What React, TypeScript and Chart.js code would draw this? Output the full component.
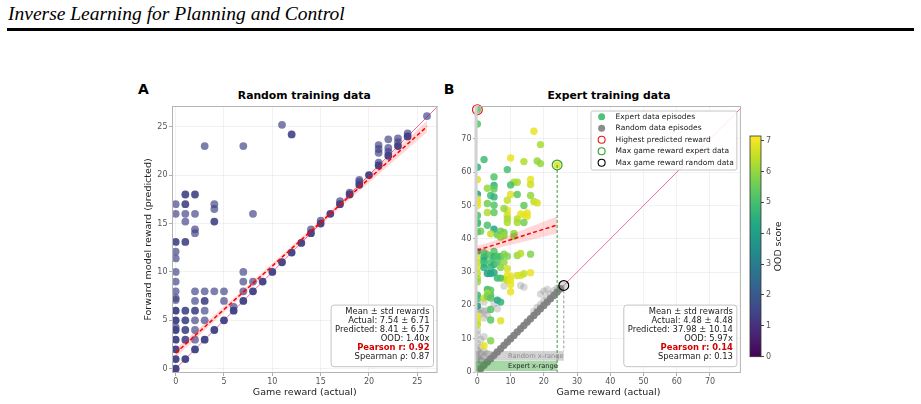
import React, { useEffect, useRef } from "react";
import { Chart, registerables } from "chart.js";

Chart.register(...registerables);

const SANS = "'DejaVu Sans', 'Liberation Sans', sans-serif";

// ---------- Panel A: forward model trained on random data ----------
const randomActual = [
  0, 0, 0, 0, 0, 0, 0, 0, 0, 0, 0, 0, 0, 0, 0, 0, 0, 0,
  1, 1, 1, 1, 1, 1, 1, 1, 1, 1,
  2, 2, 2, 2, 2, 2, 2, 2, 2, 2, 2,
  3, 3, 3, 3, 3, 3,
  4, 4, 4, 4, 4,
  5, 5, 5,
  6, 6,
  7, 7, 7, 7, 7,
  8, 8, 8,
  9, 10, 11, 11, 12, 12, 13, 14, 14, 15, 15, 16, 17, 17, 18, 18,
  19, 19, 19, 20, 21, 21, 21, 21, 21, 22, 22, 22, 22, 23, 23, 23, 24, 24, 26,
];
const randomPredicted = [
  0, 1, 2, 3, 4, 4.3, 5, 6, 7.1, 7.3, 8, 9, 10, 11.4, 12.1, 13.1, 16, 17,
  1, 3, 4, 5, 6, 13.1, 15.2, 16, 17, 18,
  2, 3, 4, 5, 6, 7, 8, 14, 14.4, 16, 18,
  3, 5, 6, 7, 8, 23,
  4, 8, 15.2, 16.5, 17,
  5, 7, 8,
  6, 6.4,
  7, 8, 9, 10, 23,
  8, 9, 16,
  9, 10, 11, 25.2, 12, 24.2, 13, 14, 14.4, 15, 15.3, 16, 17, 17.3, 18, 18.2,
  19, 19.3, 19.5, 20, 21, 21.3, 22.3, 22.7, 23.1, 22, 22.4, 22.8, 23.7, 23, 23.4, 23.8, 24, 24.3, 26.1,
];
// number of episodes sharing each (actual, predicted) pair
const randomCount = [
  4, 3, 3, 3, 3, 1, 3, 3, 1, 1, 1, 1, 1, 1, 1, 2, 1, 1,
  3, 2, 2, 2, 2, 2, 1, 1, 2, 2,
  3, 1, 1, 1, 2, 1, 1, 1, 1, 1, 2,
  3, 1, 1, 2, 1, 1,
  3, 1, 2, 1, 1,
  3, 1, 1,
  3, 1,
  3, 1, 1, 1, 1,
  3, 1, 1,
  3, 3, 3, 1, 3, 2, 3, 3, 1, 3, 1, 3, 3, 1, 3, 1,
  3, 1, 1, 3, 3, 1, 1, 1, 1, 3, 1, 1, 1, 3, 1, 1, 3, 1, 1,
];
const randomOod = 1.4;
const randomFitX = [0, 26];
const randomFitY = [1.62, 25.02];
const randomBandX = [0, 6, 12, 18, 26];
const randomBandLow = [1.17, 6.74, 12.17, 17.47, 24.42];
const randomBandHigh = [2.07, 7.3, 12.67, 18.17, 25.62];
const randomStats = [
  "Mean ± std rewards",
  "Actual: 7.54 ± 6.71",
  "Predicted: 8.41 ± 6.57",
  "OOD: 1.40x",
  "Pearson r: 0.92",
  "Spearman ρ: 0.87",
];

// ---------- Panel B: forward model trained on expert data ----------
const expertActual = [
  0, 0, 17, 19, 2, 0, 10, 14, 18, 19,
  24, 9, 0, 5, 5, 5, 16, 16, 11, 12,
  10, 3, 0, 0, 0, 0, 3, 4, 5, 5,
  10, 12, 16, 17, 18, 9, 3, 5, 14, 13,
  14, 15, 15, 9, 9, 8, 9, 9, 12, 12,
  14, 0, 0, 0, 3, 1, 5, 7, 8, 11,
  0, 4, 6, 7, 8, 11, 0, 2, 3, 4,
  5, 0, 0, 0, 2, 2, 2, 2, 5, 6,
  7, 8, 9, 12, 13, 16, 4, 4, 5, 6,
  7, 8, 9, 9, 10, 8, 12, 13, 14, 16,
  0, 0, 0, 3, 4, 5, 6, 7, 9, 10,
  10, 3, 4, 4, 10, 0, 0, 2, 3, 3,
  4, 6, 7, 0, 4, 0, 0, 0, 0, 4,
  7, 4, 2,
];
const expertPredicted = [
  78.8, 74.5, 72.3, 68.3, 63.8, 61.5, 64.3, 63.2, 63.4, 62.6,
  62.2, 60.8, 57.8, 58.6, 56.0, 55.0, 57.8, 56.3, 57.0, 57.0,
  56.2, 55.2, 53.4, 52.0, 51.0, 50.0, 50.6, 53.0, 52.6, 50.1,
  53.3, 53.3, 53.0, 51.2, 50.8, 51.6, 47.9, 47.9, 50.0, 47.5,
  47.2, 47.8, 46.8, 48.6, 47.1, 49.1, 46.0, 44.9, 46.0, 44.9,
  44.9, 47.0, 45.0, 44.6, 44.1, 42.3, 42.9, 42.3, 41.9, 41.6,
  42.1, 41.5, 41.2, 40.5, 41.0, 40.8, 36.1, 35.8, 35.2, 34.9,
  36.2, 34.4, 32.8, 31.1, 34.6, 33.6, 32.6, 31.4, 34.6, 34.8,
  34.6, 35.4, 34.8, 35.0, 35.6, 35.4, 32.9, 31.4, 32.3, 33.0,
  31.4, 33.0, 31.0, 29.0, 28.8, 28.0, 29.0, 29.0, 29.5, 29.8,
  29.6, 28.1, 27.1, 29.6, 29.6, 29.8, 28.2, 28.2, 27.5, 27.7,
  26.3, 24.8, 24.6, 23.1, 24.1, 23.1, 22.1, 22.2, 23.7, 22.7,
  22.2, 21.6, 21.0, 19.8, 18.8, 16.8, 16.1, 15.1, 14.1, 15.6,
  15.4, 9.4, 7.9,
];
const expertOod = [
  5.3, 5.2, 6.9, 6.2, 4.9, 4.6, 6.9, 6.3, 6.0, 6.0,
  6.8, 5.0, 6.8, 5.2, 4.5, 5.5, 6.9, 6.6, 6.2, 6.2,
  5.0, 6.0, 3.9, 6.9, 6.8, 6.9, 5.6, 5.0, 4.7, 5.2,
  6.8, 5.3, 6.0, 6.4, 6.7, 6.5, 6.3, 5.4, 5.4, 6.9,
  6.9, 6.9, 6.9, 6.9, 6.6, 6.0, 6.2, 6.3, 6.4, 6.2,
  5.6, 5.0, 5.2, 4.9, 5.1, 5.6, 4.2, 5.6, 5.6, 6.0,
  5.3, 6.5, 5.5, 6.0, 6.0, 5.8, 4.0, 5.4, 5.0, 5.6,
  5.2, 6.9, 6.5, 6.8, 4.8, 4.4, 5.0, 4.5, 4.6, 5.1,
  5.0, 5.8, 5.8, 6.0, 6.4, 5.8, 5.0, 4.8, 4.6, 5.2,
  5.8, 6.0, 6.7, 6.9, 6.9, 6.8, 6.6, 6.8, 6.5, 6.9,
  6.5, 6.2, 6.0, 4.0, 4.2, 4.3, 4.8, 5.1, 6.5, 6.9,
  6.9, 4.8, 5.3, 5.2, 6.9, 4.8, 5.0, 6.5, 6.2, 5.7,
  5.3, 4.1, 4.6, 3.8, 5.2, 6.9, 6.9, 6.8, 6.5, 5.3,
  6.8, 5.8, 6.9,
];
const randomEpActual = [
  0, 1, 2, 3, 4, 5, 6, 7, 8, 9, 10, 11, 12, 13, 14, 15, 16, 17, 18, 19, 20, 21, 22, 23, 24, 25, 26,
  17, 18, 19, 20, 21, 22, 23, 24, 19, 20, 21, 8, 13, 14,
  0, 0, 0, 0, 1, 1, 1, 2, 2, 3, 1, 0, 2, 0, 1, 2, 0, 3, 0, 2, 2, 1, 3, 5, 6,
];
const randomEpPredicted = [
  0, 1, 2, 3, 4, 5, 6, 7, 8, 9, 10, 11, 12, 13, 14, 15, 16, 17, 18, 19, 20, 21, 22, 23, 24, 25, 26,
  18.2, 19.4, 20.3, 21.4, 22.4, 23.4, 24.4, 25.2, 23.4, 24.3, 24.8, 25.8, 26.0, 25.5,
  2.5, 4.5, 6.5, 8.5, 3.5, 5.5, 7.5, 4.5, 6.2, 5.6, 9.8, 11.2, 10.6, 12.5, 17.6, 18.3, 18.8, 17.1, 20.5, 16.2, 21.1, 18.6, 18.6, 20.5, 19.0,
];
const randomEpCount = [
  8, 8, 8, 8, 8, 8, 8, 8, 8, 8, 8, 8, 8, 8, 8, 8, 8, 8, 8, 8, 8, 8, 8, 8, 8, 8, 1,
  1, 1, 1, 1, 1, 1, 1, 1, 1, 1, 1, 1, 1, 1,
  2, 2, 2, 1, 2, 1, 1, 1, 1, 1, 1, 1, 1, 1, 1, 1, 1, 1, 1, 1, 1, 1, 1, 1, 1,
];
const expertFitX = [0, 24];
const expertFitY = [36.56, 44.17];
const expertBandX = [0, 4, 8, 12, 16, 20, 24];
const expertBandLow = [35.16, 36.63, 37.7, 38.66, 39.63, 40.6, 41.57];
const expertBandHigh = [37.96, 39.03, 40.5, 42.06, 43.63, 45.2, 46.77];
const expertStats = [
  "Mean ± std rewards",
  "Actual: 4.48 ± 4.48",
  "Predicted: 37.98 ± 10.14",
  "OOD: 5.97x",
  "Pearson r: 0.14",
  "Spearman ρ: 0.13",
];
const legendLabels = [
  "Expert data episodes",
  "Random data episodes",
  "Highest predicted reward",
  "Max game reward expert data",
  "Max game reward random data",
];
// predicted-reward bands carrying the x-range labels
const randomRangeBand = [3.4, 6.3];
const expertRangeBand = [0.3, 3.3];
const rangeLabelX = 9.2;

// ---------- axis limits ----------
const aXRange = [-0.38, 27.09];
const aYRange = [-0.44, 27.14];
const bXRange = [-0.42, 79.3];
const bYRange = [-0.3, 79.9];
const oodRange = [0, 7.15];

const VIRIDIS = [
  "#440154", "#482475", "#414487", "#355f8d", "#2a788e", "#21918c",
  "#22a884", "#44bf70", "#7ad151", "#bddf26", "#fde725",
];
function hexRgb(h: string) {
  return [1, 3, 5].map((i) => parseInt(h.slice(i, i + 2), 16));
}
function viridis(t: number, alpha = 1) {
  const c = Math.min(1, Math.max(0, t)) * 10;
  const i = Math.min(9, Math.floor(c));
  const f = c - i;
  const a = hexRgb(VIRIDIS[i]);
  const b = hexRgb(VIRIDIS[i + 1]);
  const m = a.map((v, k) => Math.round(v + (b[k] - v) * f));
  return `rgba(${m[0]},${m[1]},${m[2]},${alpha})`;
}
const oodColor = (v: number, alpha = 1) => viridis((v - oodRange[0]) / (oodRange[1] - oodRange[0]), alpha);
const stackAlpha = (base: number, n: number) => 1 - Math.pow(1 - base, n);
const pts = (xs: number[], ys: number[]) => xs.map((x, i) => ({ x, y: ys[i] }));
const argMax = (v: number[]) => v.reduce((best, cur, i) => (cur > v[best] ? i : best), 0);

const PINK = "#f06ba8";
const tickFont = { family: SANS, size: 8 };
const axisTitleFont = { family: SANS, size: 9.5 };
const gridStyle = { color: "rgba(0,0,0,0.065)", lineWidth: 0.8, tickColor: "#9a9a9a", tickLength: 3 };

function xAxis(range: number[], step: number, height: number) {
  return {
    type: "linear",
    position: "bottom",
    min: range[0],
    max: range[1],
    ticks: { stepSize: step, includeBounds: false, color: "#555", font: tickFont, padding: 1.5, maxRotation: 0, autoSkip: false },
    grid: gridStyle,
    border: { display: false },
    title: { display: true, text: "Game reward (actual)", color: "#222", font: axisTitleFont, padding: { top: 0, bottom: 5.6 } },
    afterFit: (s: any) => {
      s.height = height;
    },
  };
}
function yAxis(range: number[], step: number, width: number, title?: string) {
  return {
    type: "linear",
    position: "left",
    min: range[0],
    max: range[1],
    ticks: { stepSize: step, includeBounds: false, color: "#555", font: tickFont, padding: 1.5, autoSkip: false },
    grid: gridStyle,
    border: { display: false },
    title: title
      ? { display: true, text: title, color: "#222", font: axisTitleFont, padding: { top: 12.6, bottom: 0 } }
      : { display: false },
    afterFit: (s: any) => {
      s.width = width;
    },
  };
}

function roundRect(ctx: CanvasRenderingContext2D, x: number, y: number, w: number, h: number, r: number) {
  ctx.beginPath();
  ctx.moveTo(x + r, y);
  ctx.lineTo(x + w - r, y);
  ctx.arcTo(x + w, y, x + w, y + r, r);
  ctx.lineTo(x + w, y + h - r);
  ctx.arcTo(x + w, y + h, x + w - r, y + h, r);
  ctx.lineTo(x + r, y + h);
  ctx.arcTo(x, y + h, x, y + h - r, r);
  ctx.lineTo(x, y + r);
  ctx.arcTo(x, y, x + r, y, r);
  ctx.closePath();
}

function framePlugin(leftSpine?: { color: string; width: number }) {
  return {
    id: "frame",
    afterDatasetsDraw(chart: any) {
      const { ctx, chartArea: a } = chart;
      ctx.save();
      ctx.strokeStyle = "#b4b4b4";
      ctx.lineWidth = 1;
      ctx.strokeRect(a.left + 0.5, a.top + 0.5, a.right - a.left - 1, a.bottom - a.top - 1);
      if (leftSpine) {
        ctx.strokeStyle = leftSpine.color;
        ctx.lineWidth = leftSpine.width;
        ctx.beginPath();
        ctx.moveTo(a.left, a.top);
        ctx.lineTo(a.left, a.bottom);
        ctx.stroke();
      }
      ctx.restore();
    },
  };
}

function statsPlugin(lines: string[], highlight: number) {
  return {
    id: "statsBox",
    afterDraw(chart: any) {
      const { ctx, chartArea: a } = chart;
      const regular = `8.4px ${SANS}`;
      const bold = `bold 8.4px ${SANS}`;
      ctx.save();
      let maxW = 0;
      lines.forEach((t, i) => {
        ctx.font = i === highlight ? bold : regular;
        maxW = Math.max(maxW, ctx.measureText(t).width);
      });
      const lh = 9.1;
      const w = maxW + 8;
      const h = 6.7 + lh * (lines.length - 1) + 9.4;
      const right = a.right - 4;
      const bottom = a.bottom - 6.3;
      roundRect(ctx, right - w, bottom - h, w, h, 3);
      ctx.fillStyle = "rgba(255,255,255,0.85)";
      ctx.fill();
      ctx.strokeStyle = "#c4c4c4";
      ctx.lineWidth = 1;
      ctx.stroke();
      ctx.textAlign = "right";
      ctx.textBaseline = "middle";
      lines.forEach((t, i) => {
        ctx.font = i === highlight ? bold : regular;
        ctx.fillStyle = i === highlight ? "#d40000" : "#222";
        ctx.fillText(t, right - 4, bottom - h + 6.7 + i * lh);
      });
      ctx.restore();
    },
  };
}

const legendMarkers = [
  { fill: "rgba(68,191,112,0.95)", stroke: "" },
  { fill: "rgba(128,128,128,0.9)", stroke: "" },
  { fill: "", stroke: "#e31a1c" },
  { fill: "", stroke: "#33a02c" },
  { fill: "", stroke: "#000" },
];

const legendPlugin = {
  id: "legendBox",
  afterDraw(chart: any) {
    const { ctx, chartArea: a } = chart;
    ctx.save();
    ctx.font = `7.5px ${SANS}`;
    const maxW = Math.max(...legendLabels.map((t) => ctx.measureText(t).width));
    const w = 24.6 + maxW + 3;
    const step = 11.5;
    const h = 5.7 + step * (legendLabels.length - 1) + 7.3;
    const x0 = a.right - 4 - w;
    const y0 = a.top + 5;
    roundRect(ctx, x0, y0, w, h, 2);
    ctx.fillStyle = "rgba(255,255,255,0.85)";
    ctx.fill();
    ctx.strokeStyle = "#c4c4c4";
    ctx.lineWidth = 1;
    ctx.stroke();
    legendLabels.forEach((t, i) => {
      const cy = y0 + 5.7 + i * step;
      const m = legendMarkers[i];
      ctx.beginPath();
      ctx.arc(x0 + 10.6, cy, 3.5, 0, Math.PI * 2);
      if (m.fill) {
        ctx.fillStyle = m.fill;
        ctx.fill();
      }
      if (m.stroke) {
        ctx.strokeStyle = m.stroke;
        ctx.lineWidth = 1.1;
        ctx.stroke();
      }
      ctx.fillStyle = "#222";
      ctx.textAlign = "left";
      ctx.textBaseline = "middle";
      ctx.fillText(t, x0 + 24.6, cy);
    });
    ctx.restore();
  },
};

const randomMaxIdx = argMax(randomEpActual);
const expertMaxIdx = argMax(expertActual);

const rangePlugin = {
  id: "rangeBands",
  afterDatasetsDraw(chart: any) {
    const { ctx, scales } = chart;
    const x = scales.x;
    const y = scales.y;
    const left = x.getPixelForValue(x.min);
    ctx.save();
    const bands = [
      { band: randomRangeBand, right: randomEpActual[randomMaxIdx], fill: "rgba(128,128,128,0.35)", text: "Random x-range", color: "#8a8a8a" },
      { band: expertRangeBand, right: expertActual[expertMaxIdx], fill: "rgba(44,160,44,0.42)", text: "Expert x-range", color: "#1e1e1e" },
    ];
    bands.forEach((b) => {
      const top = y.getPixelForValue(b.band[1]);
      const bot = y.getPixelForValue(b.band[0]);
      ctx.fillStyle = b.fill;
      ctx.fillRect(left, top, x.getPixelForValue(b.right) - left, bot - top);
      ctx.font = `6.7px ${SANS}`;
      ctx.fillStyle = b.color;
      ctx.textAlign = "left";
      ctx.textBaseline = "middle";
      ctx.fillText(b.text, x.getPixelForValue(rangeLabelX), (top + bot) / 2 + 0.3);
    });
    ctx.restore();
  },
};

const colorbarPlugin = {
  id: "colorbar",
  afterDraw(chart: any) {
    const { ctx, chartArea: a } = chart;
    ctx.save();
    const g = ctx.createLinearGradient(0, a.bottom, 0, a.top);
    VIRIDIS.forEach((c, i) => g.addColorStop(i / (VIRIDIS.length - 1), c));
    ctx.fillStyle = g;
    ctx.fillRect(a.left, a.top, a.right - a.left, a.bottom - a.top);
    ctx.strokeStyle = "#333";
    ctx.lineWidth = 0.8;
    ctx.strokeRect(a.left, a.top, a.right - a.left, a.bottom - a.top);
    ctx.translate(33.3, (a.top + a.bottom) / 2);
    ctx.rotate(-Math.PI / 2);
    ctx.font = `9.3px ${SANS}`;
    ctx.fillStyle = "#222";
    ctx.textAlign = "center";
    ctx.textBaseline = "middle";
    ctx.fillText("OOD score", 0, 0);
    ctx.restore();
  },
};

const lineSet = (data: any[], extra: any) => ({
  data,
  showLine: true,
  pointRadius: 0,
  pointHoverRadius: 0,
  fill: false,
  ...extra,
});

function panelAConfig(): any {
  const colors = randomCount.map((n) => oodColor(randomOod, stackAlpha(0.68, n)));
  return {
    type: "scatter",
    data: {
      datasets: [
        lineSet(pts(randomFitX, randomFitY), { borderColor: "#ff0000", borderWidth: 1.5, borderDash: [4, 2.5], order: 1 }),
        lineSet(pts(randomBandX, randomBandHigh), { borderColor: "transparent", borderWidth: 0, fill: "+1", backgroundColor: "rgba(255,0,0,0.15)", order: 2 }),
        lineSet(pts(randomBandX, randomBandLow), { borderColor: "transparent", borderWidth: 0, order: 2 }),
        {
          data: pts(randomActual, randomPredicted),
          pointRadius: 3.9,
          pointHoverRadius: 3.9,
          pointBorderWidth: 0,
          pointBackgroundColor: colors,
          order: 3,
        },
        lineSet(
          [
            { x: aXRange[0], y: aXRange[0] },
            { x: aYRange[1], y: aYRange[1] },
          ],
          { borderColor: PINK, borderWidth: 1, order: 4 }
        ),
      ],
    },
    options: {
      responsive: false,
      animation: false,
      events: [],
      layout: { padding: { left: 0, top: 26, right: 7.5, bottom: 0 } },
      plugins: { legend: { display: false }, tooltip: { enabled: false } },
      scales: {
        x: xAxis(aXRange, 5, 31),
        y: yAxis(aYRange, 5, 42, "Forward model reward (predicted)"),
      },
    },
    plugins: [framePlugin(), statsPlugin(randomStats, 4)],
  };
}

function panelBConfig(): any {
  const expertColors = expertOod.map((v) => oodColor(v, 0.85));
  const grayColors = randomEpCount.map((n) => `rgba(128,128,128,${stackAlpha(0.3, n)})`);
  const topIdx = argMax(expertPredicted);
  const ring = (p: { x: number; y: number }, color: string) => ({
    data: [p],
    pointRadius: 4.9,
    pointHoverRadius: 4.9,
    pointBorderWidth: 1.2,
    pointBorderColor: color,
    pointBackgroundColor: "rgba(0,0,0,0)",
    clip: false,
    order: 0,
  });
  const expertMax = { x: expertActual[expertMaxIdx], y: expertPredicted[expertMaxIdx] };
  const randomMax = { x: randomEpActual[randomMaxIdx], y: randomEpPredicted[randomMaxIdx] };
  return {
    type: "scatter",
    data: {
      datasets: [
        ring({ x: expertActual[topIdx], y: expertPredicted[topIdx] }, "#e31a1c"),
        ring(expertMax, "#33a02c"),
        ring(randomMax, "#000"),
        lineSet([expertMax, { x: expertMax.x, y: 0 }], { borderColor: "#3a9a3a", borderWidth: 1, borderDash: [3, 2], order: 1 }),
        lineSet([randomMax, { x: randomMax.x, y: randomRangeBand[1] }], { borderColor: "#9a9a9a", borderWidth: 1, borderDash: [3, 2], order: 1 }),
        lineSet(pts(expertFitX, expertFitY), { borderColor: "#ff0000", borderWidth: 1.5, borderDash: [4, 2.5], order: 2 }),
        lineSet(pts(expertBandX, expertBandHigh), { borderColor: "transparent", borderWidth: 0, fill: "+1", backgroundColor: "rgba(255,0,0,0.15)", order: 3 }),
        lineSet(pts(expertBandX, expertBandLow), { borderColor: "transparent", borderWidth: 0, order: 3 }),
        {
          data: pts(expertActual, expertPredicted),
          pointRadius: 3.7,
          pointHoverRadius: 3.7,
          pointBorderWidth: 0,
          pointBackgroundColor: expertColors,
          order: 4,
        },
        {
          data: pts(randomEpActual, randomEpPredicted),
          pointRadius: 3.7,
          pointHoverRadius: 3.7,
          pointBorderWidth: 0,
          pointBackgroundColor: grayColors,
          order: 5,
        },
        lineSet(
          [
            { x: bXRange[0], y: bXRange[0] },
            { x: bYRange[1], y: bYRange[1] },
          ],
          { borderColor: PINK, borderWidth: 1, order: 6 }
        ),
      ],
    },
    options: {
      responsive: false,
      animation: false,
      events: [],
      layout: { padding: { left: 0, top: 26, right: 4, bottom: 0 } },
      plugins: { legend: { display: false }, tooltip: { enabled: false } },
      scales: {
        x: xAxis(bXRange, 10, 31),
        y: yAxis(bYRange, 10, 36),
      },
    },
    plugins: [framePlugin({ color: "#d2d2d2", width: 3 }), rangePlugin, legendPlugin, statsPlugin(expertStats, 4)],
  };
}

function colorbarConfig(): any {
  return {
    type: "scatter",
    data: { datasets: [] },
    options: {
      responsive: false,
      animation: false,
      events: [],
      layout: { padding: { left: 5, top: 16, right: 0, bottom: 23.3 } },
      plugins: { legend: { display: false }, tooltip: { enabled: false } },
      scales: {
        x: { display: false, min: 0, max: 1 },
        y: {
          type: "linear",
          position: "right",
          min: oodRange[0],
          max: oodRange[1],
          ticks: { stepSize: 1, includeBounds: false, color: "#555", font: tickFont, padding: 2 },
          grid: { drawOnChartArea: false, tickColor: "#444", tickLength: 3 },
          border: { display: false },
          afterFit: (s: any) => {
            s.width = 39;
          },
        },
      },
    },
    plugins: [colorbarPlugin],
  };
}

const abs = (left: number, top: number): React.CSSProperties => ({ position: "absolute", left, top });

export default function App() {
  const aRef = useRef<HTMLCanvasElement>(null);
  const bRef = useRef<HTMLCanvasElement>(null);
  const cRef = useRef<HTMLCanvasElement>(null);

  useEffect(() => {
    const charts = [
      new Chart(aRef.current as HTMLCanvasElement, panelAConfig()),
      new Chart(bRef.current as HTMLCanvasElement, panelBConfig()),
      new Chart(cRef.current as HTMLCanvasElement, colorbarConfig()),
    ];
    return () => charts.forEach((c) => c.destroy());
  }, []);

  const panelLetter: React.CSSProperties = { font: `bold 14px ${SANS}`, lineHeight: "16px", color: "#000" };
  const panelTitle: React.CSSProperties = {
    font: `bold 10.8px ${SANS}`,
    lineHeight: "13px",
    color: "#000",
    width: 240,
    textAlign: "center",
    whiteSpace: "nowrap",
  };

  return (
    <div style={{ position: "absolute", left: 0, top: 0, width: 921, height: 404, overflow: "hidden", background: "#fff" }}>
      <div
        style={{
          ...abs(8, 3.5),
          font: "italic 19.5px 'Liberation Serif', 'Times New Roman', serif",
          lineHeight: "20px",
          color: "#000",
          whiteSpace: "nowrap",
        }}
      >
        Inverse Learning for Planning and Control
      </div>
      <div style={{ ...abs(7, 28), width: 907, height: 2.5, background: "#000" }} />

      <div style={{ ...abs(138, 80.5), ...panelLetter }}>A</div>
      <div style={{ ...abs(304.3 - 120, 89.4), ...panelTitle }}>Random training data</div>
      <div style={{ ...abs(443.7, 80.5), ...panelLetter }}>B</div>
      <div style={{ ...abs(609 - 120, 89.4), ...panelTitle }}>Expert training data</div>

      <canvas ref={aRef} width={315} height={324} style={abs(130, 80)} />
      <canvas ref={bRef} width={307} height={324} style={abs(440, 80)} />
      <canvas ref={cRef} width={55} height={260} style={abs(745, 120)} />
    </div>
  );
}
